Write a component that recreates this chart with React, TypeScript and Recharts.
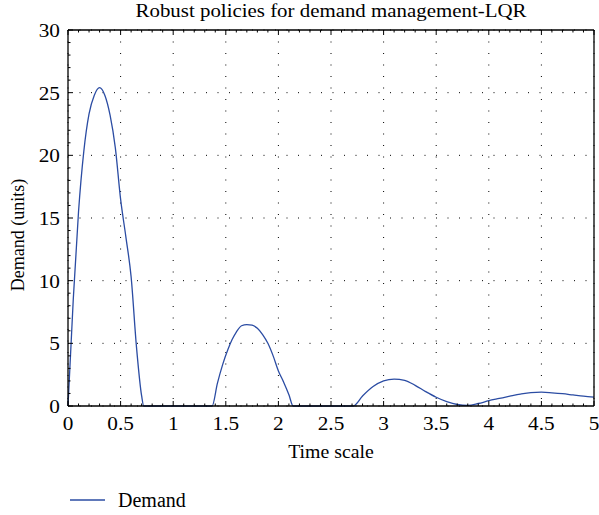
import { LineChart, Line, XAxis, YAxis, CartesianGrid, Legend } from "recharts";

const time = [
  0, 0.05, 0.1, 0.15, 0.2, 0.25, 0.3, 0.35, 0.4, 0.45, 0.5, 0.55, 0.6, 0.65, 0.7, 0.72,
  1.0, 1.37, 1.42, 1.47, 1.52, 1.56, 1.6, 1.65, 1.7, 1.75, 1.8, 1.85, 1.9, 1.95, 2.0, 2.05, 2.1, 2.14,
  2.4, 2.71, 2.8, 2.9, 3.0, 3.1, 3.2, 3.3, 3.4, 3.5, 3.6, 3.7, 3.8, 3.9, 4.0, 4.1, 4.2, 4.3, 4.4, 4.5,
  4.6, 4.7, 4.8, 4.9, 5.0,
];
const demand = [
  0, 8.5, 15.5, 20.3, 23.3, 24.8, 25.4, 24.8, 23.2, 20.6, 16.5, 13.5, 10.3, 4.8, 0.8, 0,
  0, 0, 1.8, 3.3, 4.5, 5.3, 5.9, 6.4, 6.5, 6.45, 6.2, 5.7, 5.0, 4.0, 2.8, 1.9, 0.9, 0,
  0, 0, 0.8, 1.55, 2.0, 2.15, 2.05, 1.65, 1.15, 0.7, 0.35, 0.12, 0.05, 0.2, 0.42, 0.6, 0.78, 0.95, 1.07, 1.1,
  1.05, 0.98, 0.88, 0.78, 0.7,
];

const xMajor = [0, 0.5, 1, 1.5, 2, 2.5, 3, 3.5, 4, 4.5, 5];
const xMinor = Array.from({ length: 51 }, (_, i) => i / 10);
const yMajor = [0, 5, 10, 15, 20, 25, 30];
const yMinor = Array.from({ length: 31 }, (_, i) => i);

const data = time.map((t, i) => ({ t, demand: demand[i] }));

const isMajor = (v: number, step: number) => Math.abs(v / step - Math.round(v / step)) < 1e-6;

// glyphs in the reference look stretched sideways, so scale the text in x
function WideText({ x, y, anchor, size, sx, children }: any) {
  return (
    <text
      transform={`translate(${x},${y}) scale(${sx},1)`}
      textAnchor={anchor}
      fontSize={size}
      fill="#000"
    >
      {children}
    </text>
  );
}

function BottomTick({ x, y, payload }: any) {
  const major = isMajor(payload.value, 0.5);
  return (
    <g>
      <line x1={x} x2={x} y1={y} y2={y - (major ? 5 : 2.5)} stroke="#000" />
      {major && (
        <WideText x={x} y={y + 24} anchor="middle" size={18.5} sx={1.15}>
          {payload.value}
        </WideText>
      )}
    </g>
  );
}

function TopTick({ x, y, payload }: any) {
  const major = isMajor(payload.value, 0.5);
  return <line x1={x} x2={x} y1={y} y2={y + (major ? 5 : 2.5)} stroke="#000" />;
}

function LeftTick({ x, y, payload }: any) {
  const major = isMajor(payload.value, 5);
  return (
    <g>
      <line x1={x} x2={x + (major ? 5 : 2.5)} y1={y} y2={y} stroke="#000" />
      {major && (
        <WideText x={x - 8} y={y + 7} anchor="end" size={18.5} sx={1.15}>
          {payload.value}
        </WideText>
      )}
    </g>
  );
}

function RightTick({ x, y, payload }: any) {
  const major = isMajor(payload.value, 5);
  return <line x1={x} x2={x - (major ? 5 : 2.5)} y1={y} y2={y} stroke="#000" />;
}

function TitleLabel({ viewBox }: any) {
  return (
    <WideText x={viewBox.x + viewBox.width / 2} y={viewBox.y - 12} anchor="middle" size={18.5} sx={1.13}>
      Robust policies for demand management-LQR
    </WideText>
  );
}

function XLabel({ viewBox }: any) {
  return (
    <WideText x={viewBox.x + viewBox.width / 2} y={viewBox.y + 52} anchor="middle" size={18} sx={1.1}>
      Time scale
    </WideText>
  );
}

function YLabel({ viewBox }: any) {
  const cx = 24;
  const cy = viewBox.y + viewBox.height / 2 + 17;
  return (
    <text transform={`translate(${cx},${cy}) rotate(-90)`} textAnchor="middle" fontSize={18} fill="#000">
      Demand (units)
    </text>
  );
}

function LegendContent({ payload }: any) {
  return (
    <div style={{ height: 30, display: "flex", alignItems: "center", paddingLeft: 70 }}>
      {(payload || []).map((p: any) => (
        <div key={p.value} style={{ display: "flex", alignItems: "center" }}>
          <svg width={35} height={4}>
            <line x1={0} x2={35} y1={2} y2={2} stroke={p.color} strokeWidth={1.3} />
          </svg>
          <span style={{ marginLeft: 13, fontSize: 20, color: "#000", lineHeight: "20px" }}>{p.value}</span>
        </div>
      ))}
    </div>
  );
}

export default function App() {
  return (
    <div style={{ position: "absolute", left: 0, top: 0, fontFamily: "'Liberation Serif', serif" }}>
      <LineChart width={599} height={515} data={data} margin={{ top: 29, right: 4, left: 0, bottom: 0 }}>
        <CartesianGrid
          stroke="#000"
          strokeDasharray="1 10.5"
          verticalValues={xMajor}
          horizontalValues={yMajor}
        />
        <XAxis
          dataKey="t"
          type="number"
          domain={[0, 5]}
          ticks={xMinor}
          interval={0}
          height={79}
          tickSize={0}
          tickMargin={0}
          tickLine={false}
          axisLine={{ stroke: "#000", strokeWidth: 1.3 }}
          tick={<BottomTick />}
          label={{ content: (p: any) => <XLabel {...p} /> }}
        />
        <XAxis
          xAxisId="top"
          orientation="top"
          dataKey="t"
          type="number"
          domain={[0, 5]}
          ticks={xMinor}
          interval={0}
          height={1}
          tickSize={0}
          tickMargin={0}
          tickLine={false}
          axisLine={{ stroke: "#000", strokeWidth: 1.3 }}
          tick={<TopTick />}
          label={{ content: (p: any) => <TitleLabel {...p} /> }}
        />
        <YAxis
          type="number"
          domain={[0, 30]}
          ticks={yMinor}
          interval={0}
          width={68}
          tickSize={0}
          tickMargin={0}
          tickLine={false}
          axisLine={{ stroke: "#000", strokeWidth: 1.3 }}
          tick={<LeftTick />}
          label={{ content: (p: any) => <YLabel {...p} /> }}
        />
        <YAxis
          yAxisId="right"
          orientation="right"
          type="number"
          domain={[0, 30]}
          ticks={yMinor}
          interval={0}
          width={1}
          tickSize={0}
          tickMargin={0}
          tickLine={false}
          axisLine={{ stroke: "#000", strokeWidth: 1.3 }}
          tick={<RightTick />}
        />
        <Legend verticalAlign="bottom" content={<LegendContent />} wrapperStyle={{ left: 0, width: 599 }} />
        <Line
          type="monotone"
          dataKey="demand"
          name="Demand"
          stroke="#2b4ca3"
          strokeWidth={1.3}
          dot={false}
          isAnimationActive={false}
        />
      </LineChart>
    </div>
  );
}
